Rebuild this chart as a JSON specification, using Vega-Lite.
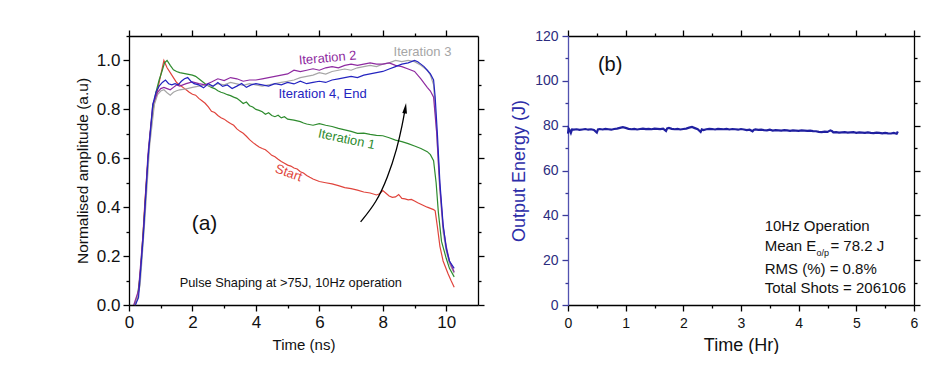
{
  "$schema": "https://vega.github.io/schema/vega-lite/v6.json",
  "padding": {"left": 75, "top": 29, "right": 0, "bottom": 0},
  "background": "white",
  "spacing": 25,
  "config": {
    "view": {"stroke": null},
    "font": "Liberation Sans",
    "axis": {"grid": false, "labelFont": "Liberation Sans", "titleFont": "Liberation Sans", "titleFontWeight": "normal", "domainColor": "#000", "tickColor": "#000", "labelColor": "#111", "titleColor": "#111", "domainWidth": 1.3, "tickWidth": 1.3, "labelFlush": false, "labelOverlap": false}
  },
  "datasets": {
    "pulses": [
      {"series":"Start","x":0.2,"y":0},{"series":"Start","x":0.3,"y":0.05},{"series":"Start","x":0.4,"y":0.2},{"series":"Start","x":0.5,"y":0.42},{"series":"Start","x":0.6,"y":0.6},{"series":"Start","x":0.7,"y":0.74},{"series":"Start","x":0.8,"y":0.83},{"series":"Start","x":0.9,"y":0.88},{"series":"Start","x":1.0,"y":0.94},{"series":"Start","x":1.1,"y":1.0},{"series":"Start","x":1.2,"y":0.97},{"series":"Start","x":1.3,"y":0.95},{"series":"Start","x":1.4,"y":0.93},{"series":"Start","x":1.5,"y":0.91},{"series":"Start","x":1.6,"y":0.9},{"series":"Start","x":1.7,"y":0.89},{"series":"Start","x":1.8,"y":0.88},{"series":"Start","x":1.9,"y":0.87},{"series":"Start","x":2.0,"y":0.862},{"series":"Start","x":2.1,"y":0.858},{"series":"Start","x":2.2,"y":0.845},{"series":"Start","x":2.3,"y":0.835},{"series":"Start","x":2.4,"y":0.825},{"series":"Start","x":2.5,"y":0.81},{"series":"Start","x":2.6,"y":0.792},{"series":"Start","x":2.7,"y":0.787},{"series":"Start","x":2.8,"y":0.775},{"series":"Start","x":2.9,"y":0.766},{"series":"Start","x":3.0,"y":0.76},{"series":"Start","x":3.1,"y":0.75},{"series":"Start","x":3.2,"y":0.742},{"series":"Start","x":3.3,"y":0.735},{"series":"Start","x":3.4,"y":0.72},{"series":"Start","x":3.5,"y":0.71},{"series":"Start","x":3.6,"y":0.702},{"series":"Start","x":3.7,"y":0.69},{"series":"Start","x":3.8,"y":0.676},{"series":"Start","x":3.9,"y":0.665},{"series":"Start","x":4.0,"y":0.655},{"series":"Start","x":4.1,"y":0.646},{"series":"Start","x":4.2,"y":0.64},{"series":"Start","x":4.3,"y":0.635},{"series":"Start","x":4.4,"y":0.624},{"series":"Start","x":4.5,"y":0.612},{"series":"Start","x":4.6,"y":0.606},{"series":"Start","x":4.7,"y":0.596},{"series":"Start","x":4.8,"y":0.587},{"series":"Start","x":4.9,"y":0.58},{"series":"Start","x":5.0,"y":0.572},{"series":"Start","x":5.1,"y":0.568},{"series":"Start","x":5.2,"y":0.56},{"series":"Start","x":5.3,"y":0.556},{"series":"Start","x":5.4,"y":0.545},{"series":"Start","x":5.5,"y":0.54},{"series":"Start","x":5.6,"y":0.53},{"series":"Start","x":5.7,"y":0.522},{"series":"Start","x":5.8,"y":0.515},{"series":"Start","x":5.9,"y":0.51},{"series":"Start","x":6.0,"y":0.505},{"series":"Start","x":6.2,"y":0.5},{"series":"Start","x":6.4,"y":0.495},{"series":"Start","x":6.6,"y":0.488},{"series":"Start","x":6.8,"y":0.48},{"series":"Start","x":7.0,"y":0.476},{"series":"Start","x":7.2,"y":0.47},{"series":"Start","x":7.4,"y":0.462},{"series":"Start","x":7.6,"y":0.458},{"series":"Start","x":7.8,"y":0.45},{"series":"Start","x":7.9,"y":0.455},{"series":"Start","x":8.0,"y":0.468},{"series":"Start","x":8.1,"y":0.457},{"series":"Start","x":8.2,"y":0.446},{"series":"Start","x":8.3,"y":0.44},{"series":"Start","x":8.4,"y":0.442},{"series":"Start","x":8.5,"y":0.452},{"series":"Start","x":8.6,"y":0.436},{"series":"Start","x":8.7,"y":0.434},{"series":"Start","x":8.8,"y":0.43},{"series":"Start","x":8.9,"y":0.432},{"series":"Start","x":9.0,"y":0.425},{"series":"Start","x":9.1,"y":0.418},{"series":"Start","x":9.2,"y":0.412},{"series":"Start","x":9.3,"y":0.406},{"series":"Start","x":9.4,"y":0.4},{"series":"Start","x":9.5,"y":0.395},{"series":"Start","x":9.6,"y":0.39},{"series":"Start","x":9.65,"y":0.385},{"series":"Start","x":9.72,"y":0.32},{"series":"Start","x":9.8,"y":0.24},{"series":"Start","x":9.9,"y":0.18},{"series":"Start","x":10.05,"y":0.13},{"series":"Start","x":10.15,"y":0.1},{"series":"Start","x":10.25,"y":0.073},

      {"series":"Iteration 1","x":0.15,"y":0},{"series":"Iteration 1","x":0.25,"y":0.02},{"series":"Iteration 1","x":0.35,"y":0.12},{"series":"Iteration 1","x":0.45,"y":0.3},{"series":"Iteration 1","x":0.55,"y":0.5},{"series":"Iteration 1","x":0.65,"y":0.68},{"series":"Iteration 1","x":0.75,"y":0.8},{"series":"Iteration 1","x":0.85,"y":0.87},{"series":"Iteration 1","x":0.95,"y":0.92},{"series":"Iteration 1","x":1.05,"y":0.96},{"series":"Iteration 1","x":1.12,"y":0.99},{"series":"Iteration 1","x":1.2,"y":1.0},{"series":"Iteration 1","x":1.3,"y":0.98},{"series":"Iteration 1","x":1.4,"y":0.962},{"series":"Iteration 1","x":1.5,"y":0.955},{"series":"Iteration 1","x":1.6,"y":0.95},{"series":"Iteration 1","x":1.8,"y":0.945},{"series":"Iteration 1","x":2.0,"y":0.94},{"series":"Iteration 1","x":2.1,"y":0.935},{"series":"Iteration 1","x":2.2,"y":0.925},{"series":"Iteration 1","x":2.3,"y":0.915},{"series":"Iteration 1","x":2.4,"y":0.905},{"series":"Iteration 1","x":2.5,"y":0.897},{"series":"Iteration 1","x":2.6,"y":0.89},{"series":"Iteration 1","x":2.7,"y":0.885},{"series":"Iteration 1","x":2.8,"y":0.876},{"series":"Iteration 1","x":2.9,"y":0.87},{"series":"Iteration 1","x":3.0,"y":0.866},{"series":"Iteration 1","x":3.1,"y":0.86},{"series":"Iteration 1","x":3.2,"y":0.856},{"series":"Iteration 1","x":3.3,"y":0.85},{"series":"Iteration 1","x":3.4,"y":0.845},{"series":"Iteration 1","x":3.5,"y":0.835},{"series":"Iteration 1","x":3.6,"y":0.824},{"series":"Iteration 1","x":3.7,"y":0.83},{"series":"Iteration 1","x":3.8,"y":0.815},{"series":"Iteration 1","x":3.9,"y":0.81},{"series":"Iteration 1","x":4.0,"y":0.8},{"series":"Iteration 1","x":4.1,"y":0.796},{"series":"Iteration 1","x":4.2,"y":0.79},{"series":"Iteration 1","x":4.3,"y":0.78},{"series":"Iteration 1","x":4.4,"y":0.786},{"series":"Iteration 1","x":4.5,"y":0.775},{"series":"Iteration 1","x":4.6,"y":0.77},{"series":"Iteration 1","x":4.7,"y":0.776},{"series":"Iteration 1","x":4.8,"y":0.765},{"series":"Iteration 1","x":4.9,"y":0.77},{"series":"Iteration 1","x":5.0,"y":0.76},{"series":"Iteration 1","x":5.2,"y":0.756},{"series":"Iteration 1","x":5.4,"y":0.75},{"series":"Iteration 1","x":5.5,"y":0.744},{"series":"Iteration 1","x":5.6,"y":0.74},{"series":"Iteration 1","x":5.8,"y":0.735},{"series":"Iteration 1","x":6.0,"y":0.742},{"series":"Iteration 1","x":6.2,"y":0.735},{"series":"Iteration 1","x":6.4,"y":0.73},{"series":"Iteration 1","x":6.6,"y":0.722},{"series":"Iteration 1","x":6.8,"y":0.716},{"series":"Iteration 1","x":7.0,"y":0.71},{"series":"Iteration 1","x":7.2,"y":0.702},{"series":"Iteration 1","x":7.4,"y":0.703},{"series":"Iteration 1","x":7.6,"y":0.698},{"series":"Iteration 1","x":7.8,"y":0.694},{"series":"Iteration 1","x":8.0,"y":0.692},{"series":"Iteration 1","x":8.2,"y":0.684},{"series":"Iteration 1","x":8.4,"y":0.674},{"series":"Iteration 1","x":8.6,"y":0.668},{"series":"Iteration 1","x":8.8,"y":0.66},{"series":"Iteration 1","x":9.0,"y":0.65},{"series":"Iteration 1","x":9.2,"y":0.64},{"series":"Iteration 1","x":9.4,"y":0.627},{"series":"Iteration 1","x":9.5,"y":0.615},{"series":"Iteration 1","x":9.6,"y":0.59},{"series":"Iteration 1","x":9.68,"y":0.5},{"series":"Iteration 1","x":9.75,"y":0.38},{"series":"Iteration 1","x":9.85,"y":0.26},{"series":"Iteration 1","x":10.0,"y":0.19},{"series":"Iteration 1","x":10.1,"y":0.15},{"series":"Iteration 1","x":10.25,"y":0.115},

      {"series":"Iteration 3","x":0.2,"y":0},{"series":"Iteration 3","x":0.35,"y":0.08},{"series":"Iteration 3","x":0.5,"y":0.35},{"series":"Iteration 3","x":0.65,"y":0.65},{"series":"Iteration 3","x":0.8,"y":0.82},{"series":"Iteration 3","x":0.9,"y":0.86},{"series":"Iteration 3","x":1.0,"y":0.875},{"series":"Iteration 3","x":1.1,"y":0.88},{"series":"Iteration 3","x":1.2,"y":0.868},{"series":"Iteration 3","x":1.3,"y":0.858},{"series":"Iteration 3","x":1.4,"y":0.87},{"series":"Iteration 3","x":1.5,"y":0.876},{"series":"Iteration 3","x":1.6,"y":0.88},{"series":"Iteration 3","x":1.8,"y":0.884},{"series":"Iteration 3","x":2.0,"y":0.89},{"series":"Iteration 3","x":2.2,"y":0.895},{"series":"Iteration 3","x":2.4,"y":0.9},{"series":"Iteration 3","x":2.6,"y":0.894},{"series":"Iteration 3","x":2.8,"y":0.905},{"series":"Iteration 3","x":3.0,"y":0.9},{"series":"Iteration 3","x":3.2,"y":0.91},{"series":"Iteration 3","x":3.4,"y":0.904},{"series":"Iteration 3","x":3.6,"y":0.898},{"series":"Iteration 3","x":3.8,"y":0.905},{"series":"Iteration 3","x":4.0,"y":0.9},{"series":"Iteration 3","x":4.2,"y":0.895},{"series":"Iteration 3","x":4.4,"y":0.9},{"series":"Iteration 3","x":4.6,"y":0.905},{"series":"Iteration 3","x":4.8,"y":0.91},{"series":"Iteration 3","x":5.0,"y":0.915},{"series":"Iteration 3","x":5.2,"y":0.92},{"series":"Iteration 3","x":5.4,"y":0.93},{"series":"Iteration 3","x":5.6,"y":0.935},{"series":"Iteration 3","x":5.8,"y":0.94},{"series":"Iteration 3","x":6.0,"y":0.95},{"series":"Iteration 3","x":6.2,"y":0.944},{"series":"Iteration 3","x":6.4,"y":0.955},{"series":"Iteration 3","x":6.6,"y":0.96},{"series":"Iteration 3","x":6.8,"y":0.965},{"series":"Iteration 3","x":7.0,"y":0.96},{"series":"Iteration 3","x":7.2,"y":0.97},{"series":"Iteration 3","x":7.4,"y":0.975},{"series":"Iteration 3","x":7.6,"y":0.98},{"series":"Iteration 3","x":7.8,"y":0.975},{"series":"Iteration 3","x":8.0,"y":0.985},{"series":"Iteration 3","x":8.2,"y":0.99},{"series":"Iteration 3","x":8.4,"y":1.0},{"series":"Iteration 3","x":8.6,"y":0.995},{"series":"Iteration 3","x":8.8,"y":1.0},{"series":"Iteration 3","x":9.0,"y":0.995},{"series":"Iteration 3","x":9.2,"y":0.98},{"series":"Iteration 3","x":9.4,"y":0.96},{"series":"Iteration 3","x":9.5,"y":0.94},{"series":"Iteration 3","x":9.6,"y":0.9},{"series":"Iteration 3","x":9.68,"y":0.75},{"series":"Iteration 3","x":9.78,"y":0.5},{"series":"Iteration 3","x":9.9,"y":0.3},{"series":"Iteration 3","x":10.0,"y":0.22},{"series":"Iteration 3","x":10.1,"y":0.17},{"series":"Iteration 3","x":10.25,"y":0.13},

      {"series":"Iteration 2","x":0.15,"y":0},{"series":"Iteration 2","x":0.3,"y":0.06},{"series":"Iteration 2","x":0.45,"y":0.3},{"series":"Iteration 2","x":0.6,"y":0.62},{"series":"Iteration 2","x":0.75,"y":0.82},{"series":"Iteration 2","x":0.9,"y":0.87},{"series":"Iteration 2","x":1.0,"y":0.885},{"series":"Iteration 2","x":1.1,"y":0.89},{"series":"Iteration 2","x":1.2,"y":0.885},{"series":"Iteration 2","x":1.3,"y":0.88},{"series":"Iteration 2","x":1.4,"y":0.89},{"series":"Iteration 2","x":1.5,"y":0.9},{"series":"Iteration 2","x":1.6,"y":0.895},{"series":"Iteration 2","x":1.8,"y":0.905},{"series":"Iteration 2","x":2.0,"y":0.912},{"series":"Iteration 2","x":2.2,"y":0.905},{"series":"Iteration 2","x":2.4,"y":0.9},{"series":"Iteration 2","x":2.6,"y":0.912},{"series":"Iteration 2","x":2.8,"y":0.925},{"series":"Iteration 2","x":3.0,"y":0.918},{"series":"Iteration 2","x":3.2,"y":0.93},{"series":"Iteration 2","x":3.4,"y":0.925},{"series":"Iteration 2","x":3.6,"y":0.915},{"series":"Iteration 2","x":3.8,"y":0.92},{"series":"Iteration 2","x":4.0,"y":0.92},{"series":"Iteration 2","x":4.2,"y":0.925},{"series":"Iteration 2","x":4.4,"y":0.93},{"series":"Iteration 2","x":4.6,"y":0.935},{"series":"Iteration 2","x":4.8,"y":0.94},{"series":"Iteration 2","x":5.0,"y":0.945},{"series":"Iteration 2","x":5.2,"y":0.96},{"series":"Iteration 2","x":5.4,"y":0.954},{"series":"Iteration 2","x":5.6,"y":0.96},{"series":"Iteration 2","x":5.8,"y":0.966},{"series":"Iteration 2","x":6.0,"y":0.96},{"series":"Iteration 2","x":6.2,"y":0.97},{"series":"Iteration 2","x":6.4,"y":0.975},{"series":"Iteration 2","x":6.6,"y":0.97},{"series":"Iteration 2","x":6.8,"y":0.98},{"series":"Iteration 2","x":7.0,"y":0.985},{"series":"Iteration 2","x":7.2,"y":0.98},{"series":"Iteration 2","x":7.4,"y":0.985},{"series":"Iteration 2","x":7.6,"y":0.99},{"series":"Iteration 2","x":7.8,"y":0.985},{"series":"Iteration 2","x":8.0,"y":0.985},{"series":"Iteration 2","x":8.2,"y":0.99},{"series":"Iteration 2","x":8.4,"y":0.98},{"series":"Iteration 2","x":8.6,"y":0.975},{"series":"Iteration 2","x":8.8,"y":0.965},{"series":"Iteration 2","x":9.0,"y":0.955},{"series":"Iteration 2","x":9.2,"y":0.925},{"series":"Iteration 2","x":9.4,"y":0.89},{"series":"Iteration 2","x":9.5,"y":0.875},{"series":"Iteration 2","x":9.6,"y":0.85},{"series":"Iteration 2","x":9.7,"y":0.7},{"series":"Iteration 2","x":9.8,"y":0.48},{"series":"Iteration 2","x":9.9,"y":0.32},{"series":"Iteration 2","x":10.0,"y":0.24},{"series":"Iteration 2","x":10.1,"y":0.18},{"series":"Iteration 2","x":10.25,"y":0.135},

      {"series":"Iteration 4, End","x":0.2,"y":0},{"series":"Iteration 4, End","x":0.3,"y":0.03},{"series":"Iteration 4, End","x":0.45,"y":0.28},{"series":"Iteration 4, End","x":0.6,"y":0.6},{"series":"Iteration 4, End","x":0.75,"y":0.82},{"series":"Iteration 4, End","x":0.85,"y":0.87},{"series":"Iteration 4, End","x":0.95,"y":0.895},{"series":"Iteration 4, End","x":1.05,"y":0.91},{"series":"Iteration 4, End","x":1.15,"y":0.92},{"series":"Iteration 4, End","x":1.25,"y":0.905},{"series":"Iteration 4, End","x":1.35,"y":0.9},{"series":"Iteration 4, End","x":1.45,"y":0.905},{"series":"Iteration 4, End","x":1.55,"y":0.9},{"series":"Iteration 4, End","x":1.65,"y":0.915},{"series":"Iteration 4, End","x":1.75,"y":0.925},{"series":"Iteration 4, End","x":1.85,"y":0.93},{"series":"Iteration 4, End","x":1.95,"y":0.915},{"series":"Iteration 4, End","x":2.05,"y":0.905},{"series":"Iteration 4, End","x":2.2,"y":0.9},{"series":"Iteration 4, End","x":2.35,"y":0.888},{"series":"Iteration 4, End","x":2.5,"y":0.905},{"series":"Iteration 4, End","x":2.65,"y":0.894},{"series":"Iteration 4, End","x":2.8,"y":0.91},{"series":"Iteration 4, End","x":2.95,"y":0.894},{"series":"Iteration 4, End","x":3.1,"y":0.9},{"series":"Iteration 4, End","x":3.25,"y":0.885},{"series":"Iteration 4, End","x":3.4,"y":0.895},{"series":"Iteration 4, End","x":3.55,"y":0.906},{"series":"Iteration 4, End","x":3.7,"y":0.89},{"series":"Iteration 4, End","x":3.85,"y":0.9},{"series":"Iteration 4, End","x":4.0,"y":0.905},{"series":"Iteration 4, End","x":4.2,"y":0.9},{"series":"Iteration 4, End","x":4.4,"y":0.895},{"series":"Iteration 4, End","x":4.6,"y":0.905},{"series":"Iteration 4, End","x":4.8,"y":0.9},{"series":"Iteration 4, End","x":5.0,"y":0.91},{"series":"Iteration 4, End","x":5.2,"y":0.904},{"series":"Iteration 4, End","x":5.4,"y":0.915},{"series":"Iteration 4, End","x":5.6,"y":0.905},{"series":"Iteration 4, End","x":5.8,"y":0.91},{"series":"Iteration 4, End","x":6.0,"y":0.915},{"series":"Iteration 4, End","x":6.2,"y":0.91},{"series":"Iteration 4, End","x":6.4,"y":0.92},{"series":"Iteration 4, End","x":6.6,"y":0.925},{"series":"Iteration 4, End","x":6.8,"y":0.93},{"series":"Iteration 4, End","x":7.0,"y":0.935},{"series":"Iteration 4, End","x":7.2,"y":0.93},{"series":"Iteration 4, End","x":7.4,"y":0.94},{"series":"Iteration 4, End","x":7.6,"y":0.945},{"series":"Iteration 4, End","x":7.8,"y":0.95},{"series":"Iteration 4, End","x":8.0,"y":0.955},{"series":"Iteration 4, End","x":8.2,"y":0.965},{"series":"Iteration 4, End","x":8.4,"y":0.975},{"series":"Iteration 4, End","x":8.6,"y":0.985},{"series":"Iteration 4, End","x":8.8,"y":0.99},{"series":"Iteration 4, End","x":9.0,"y":1.0},{"series":"Iteration 4, End","x":9.1,"y":0.995},{"series":"Iteration 4, End","x":9.2,"y":0.985},{"series":"Iteration 4, End","x":9.3,"y":0.975},{"series":"Iteration 4, End","x":9.4,"y":0.96},{"series":"Iteration 4, End","x":9.5,"y":0.945},{"series":"Iteration 4, End","x":9.6,"y":0.92},{"series":"Iteration 4, End","x":9.65,"y":0.85},{"series":"Iteration 4, End","x":9.72,"y":0.7},{"series":"Iteration 4, End","x":9.8,"y":0.5},{"series":"Iteration 4, End","x":9.9,"y":0.33},{"series":"Iteration 4, End","x":10.0,"y":0.23},{"series":"Iteration 4, End","x":10.1,"y":0.18},{"series":"Iteration 4, End","x":10.25,"y":0.15}
    ],
    "energy": [
      {"t":0.0,"E":76.5},{"t":0.01,"E":78.8},{"t":0.03,"E":78.0},{"t":0.05,"E":76.8},{"t":0.07,"E":78.3},{"t":0.1,"E":78.2},{"t":0.15,"E":78.4},{"t":0.2,"E":78.1},{"t":0.25,"E":78.3},{"t":0.3,"E":78.5},{"t":0.35,"E":78.2},{"t":0.4,"E":78.4},{"t":0.45,"E":78.1},{"t":0.5,"E":76.9},{"t":0.52,"E":78.3},{"t":0.55,"E":78.5},{"t":0.6,"E":78.3},{"t":0.65,"E":78.6},{"t":0.7,"E":78.4},{"t":0.75,"E":78.2},{"t":0.8,"E":78.5},{"t":0.85,"E":78.7},{"t":0.9,"E":79.0},{"t":0.95,"E":79.3},{"t":1.0,"E":79.0},{"t":1.05,"E":78.6},{"t":1.1,"E":78.4},{"t":1.15,"E":78.6},{"t":1.2,"E":78.3},{"t":1.25,"E":78.5},{"t":1.3,"E":78.7},{"t":1.35,"E":78.5},{"t":1.4,"E":78.6},{"t":1.45,"E":78.4},{"t":1.5,"E":78.7},{"t":1.55,"E":78.6},{"t":1.6,"E":78.5},{"t":1.65,"E":78.7},{"t":1.7,"E":77.6},{"t":1.72,"E":78.8},{"t":1.75,"E":79.0},{"t":1.8,"E":78.6},{"t":1.85,"E":78.4},{"t":1.9,"E":78.6},{"t":1.95,"E":78.3},{"t":2.0,"E":78.5},{"t":2.05,"E":78.7},{"t":2.1,"E":79.1},{"t":2.15,"E":79.4},{"t":2.2,"E":78.9},{"t":2.25,"E":78.4},{"t":2.3,"E":77.2},{"t":2.32,"E":78.3},{"t":2.35,"E":78.0},{"t":2.4,"E":78.4},{"t":2.45,"E":78.6},{"t":2.5,"E":78.5},{"t":2.55,"E":78.3},{"t":2.6,"E":78.6},{"t":2.65,"E":78.5},{"t":2.7,"E":78.4},{"t":2.75,"E":78.6},{"t":2.8,"E":78.3},{"t":2.85,"E":78.5},{"t":2.9,"E":78.4},{"t":2.95,"E":78.2},{"t":3.0,"E":78.5},{"t":3.05,"E":78.3},{"t":3.1,"E":78.0},{"t":3.15,"E":78.2},{"t":3.2,"E":77.5},{"t":3.22,"E":78.1},{"t":3.25,"E":78.3},{"t":3.3,"E":78.1},{"t":3.35,"E":78.2},{"t":3.4,"E":78.0},{"t":3.45,"E":77.9},{"t":3.5,"E":78.2},{"t":3.55,"E":77.8},{"t":3.6,"E":78.0},{"t":3.65,"E":77.9},{"t":3.7,"E":77.8},{"t":3.75,"E":78.0},{"t":3.8,"E":77.9},{"t":3.85,"E":77.7},{"t":3.9,"E":77.9},{"t":3.95,"E":77.8},{"t":4.0,"E":77.7},{"t":4.05,"E":77.9},{"t":4.1,"E":77.8},{"t":4.15,"E":77.7},{"t":4.2,"E":77.8},{"t":4.25,"E":77.6},{"t":4.3,"E":77.5},{"t":4.35,"E":77.2},{"t":4.4,"E":77.1},{"t":4.45,"E":77.3},{"t":4.5,"E":77.2},{"t":4.55,"E":77.9},{"t":4.58,"E":77.5},{"t":4.6,"E":77.0},{"t":4.65,"E":77.1},{"t":4.7,"E":76.9},{"t":4.75,"E":77.0},{"t":4.8,"E":77.1},{"t":4.85,"E":76.9},{"t":4.9,"E":77.0},{"t":4.95,"E":77.1},{"t":5.0,"E":76.8},{"t":5.05,"E":77.0},{"t":5.1,"E":76.9},{"t":5.15,"E":76.8},{"t":5.2,"E":77.0},{"t":5.25,"E":76.8},{"t":5.3,"E":76.7},{"t":5.35,"E":76.9},{"t":5.4,"E":76.8},{"t":5.45,"E":76.6},{"t":5.5,"E":76.8},{"t":5.55,"E":76.6},{"t":5.6,"E":76.5},{"t":5.65,"E":76.8},{"t":5.7,"E":76.4},{"t":5.72,"E":77.4}
    ]
  },
  "hconcat": [
    {
      "width": 349,
      "height": 269,
      "resolve": {"axis": {"x": "independent", "y": "independent"}},
      "layer": [
        {
          "data": {"name": "pulses"},
          "mark": {"type": "line", "strokeWidth": 1.2},
          "encoding": {
            "x": {"field": "x", "type": "quantitative", "scale": {"domain": [0, 11], "nice": false, "zero": false}, "axis": {"orient": "bottom", "values": [0,2,4,6,8,10], "title": "Time (ns)", "labelFontSize": 17, "titleFontSize": 15, "tickSize": 6, "labelPadding": 3, "titlePadding": 7}},
            "y": {"field": "y", "type": "quantitative", "scale": {"domain": [0, 1.1], "nice": false}, "axis": {"orient": "left", "values": [0,0.2,0.4,0.6,0.8,1.0], "format": ".1f", "title": "Normalised amplitude (a.u)", "labelFontSize": 17, "titleFontSize": 15.5, "tickSize": 6, "labelPadding": 3, "titlePadding": 6}},
            "color": {"field": "series", "type": "nominal", "scale": {"domain": ["Start", "Iteration 1", "Iteration 2", "Iteration 3", "Iteration 4, End"], "range": ["#e0443c", "#2e8b2e", "#8e2aa0", "#a6a6a6", "#2424c0"]}, "legend": null},
            "order": {"field": "x", "type": "quantitative"}
          }
        },
        {
          "data": {"values": [{"x": 0, "y": 0}]},
          "mark": {"type": "point", "opacity": 0},
          "encoding": {
            "x": {"field": "x", "type": "quantitative", "scale": {"domain": [0, 11], "nice": false, "zero": false}, "axis": {"orient": "bottom", "values": [1,3,5,7,9], "labels": false, "domain": false, "title": null, "tickSize": 3}},
            "y": {"field": "y", "type": "quantitative", "scale": {"domain": [0, 1.1], "nice": false}, "axis": {"orient": "left", "values": [0.1,0.3,0.5,0.7,0.9,1.1], "labels": false, "domain": false, "title": null, "tickSize": 3}}
          }
        },
        {
          "data": {"values": [{"x": 0, "y": 0}]},
          "mark": {"type": "point", "opacity": 0},
          "encoding": {
            "x": {"field": "x", "type": "quantitative", "scale": {"domain": [0, 11], "nice": false, "zero": false}, "axis": {"orient": "top", "values": [0,2,4,6,8,10], "labels": false, "title": null, "tickSize": 6}},
            "y": {"field": "y", "type": "quantitative", "scale": {"domain": [0, 1.1], "nice": false}, "axis": {"orient": "right", "values": [0,0.2,0.4,0.6,0.8,1.0], "labels": false, "title": null, "tickSize": 6}}
          }
        },
        {
          "data": {"values": [{"x": 0, "y": 0}]},
          "mark": {"type": "point", "opacity": 0},
          "encoding": {
            "x": {"field": "x", "type": "quantitative", "scale": {"domain": [0, 11], "nice": false, "zero": false}, "axis": {"orient": "top", "values": [1,3,5,7,9], "labels": false, "domain": false, "title": null, "tickSize": 3}},
            "y": {"field": "y", "type": "quantitative", "scale": {"domain": [0, 1.1], "nice": false}, "axis": {"orient": "right", "values": [0.1,0.3,0.5,0.7,0.9], "labels": false, "domain": false, "title": null, "tickSize": 3}}
          }
        },
        {
          "data": {"values": [{"x": 7.3, "y": 0.34}, {"x": 7.8, "y": 0.42}, {"x": 8.15, "y": 0.52}, {"x": 8.45, "y": 0.64}, {"x": 8.62, "y": 0.74}, {"x": 8.7, "y": 0.8}]},
          "mark": {"type": "line", "color": "#000", "strokeWidth": 1.3, "interpolate": "basis"},
          "encoding": {
            "x": {"field": "x", "type": "quantitative", "axis": null},
            "y": {"field": "y", "type": "quantitative", "axis": null}
          }
        },
        {
          "data": {"values": [{"x": 8.71, "y": 0.805}]},
          "mark": {"type": "point", "shape": "M0,-1L0.45,1L-0.45,1Z", "filled": true, "color": "#000", "opacity": 1, "size": 110, "angle": 8},
          "encoding": {
            "x": {"field": "x", "type": "quantitative", "axis": null},
            "y": {"field": "y", "type": "quantitative", "axis": null}
          }
        },
        {
          "data": {"values": [{"x": 9.25, "y": 1.035, "label": "Iteration 3", "series": "Iteration 3"}, {"x": 6.1, "y": 0.862, "label": "Iteration 4, End", "series": "Iteration 4, End"}]},
          "mark": {"type": "text", "fontSize": 13, "font": "Liberation Sans"},
          "encoding": {
            "x": {"field": "x", "type": "quantitative", "axis": null},
            "y": {"field": "y", "type": "quantitative", "axis": null},
            "text": {"field": "label"},
            "color": {"field": "series", "type": "nominal", "legend": null}
          }
        },
        {
          "data": {"values": [{"x": 6.26, "y": 1.01, "label": "Iteration 2", "series": "Iteration 2"}]},
          "mark": {"type": "text", "fontSize": 13, "font": "Liberation Sans", "angle": -5},
          "encoding": {
            "x": {"field": "x", "type": "quantitative", "axis": null},
            "y": {"field": "y", "type": "quantitative", "axis": null},
            "text": {"field": "label"},
            "color": {"field": "series", "type": "nominal", "legend": null}
          }
        },
        {
          "data": {"values": [{"x": 6.86, "y": 0.677, "label": "Iteration 1", "series": "Iteration 1"}]},
          "mark": {"type": "text", "fontSize": 13, "font": "Liberation Sans", "angle": 12},
          "encoding": {
            "x": {"field": "x", "type": "quantitative", "axis": null},
            "y": {"field": "y", "type": "quantitative", "axis": null},
            "text": {"field": "label"},
            "color": {"field": "series", "type": "nominal", "legend": null}
          }
        },
        {
          "data": {"values": [{"x": 5.03, "y": 0.54, "label": "Start", "series": "Start"}]},
          "mark": {"type": "text", "fontSize": 13, "font": "Liberation Sans", "angle": 20},
          "encoding": {
            "x": {"field": "x", "type": "quantitative", "axis": null},
            "y": {"field": "y", "type": "quantitative", "axis": null},
            "text": {"field": "label"},
            "color": {"field": "series", "type": "nominal", "legend": null}
          }
        },
        {
          "data": {"values": [{"x": 2.38, "y": 0.33, "label": "(a)"}]},
          "mark": {"type": "text", "fontSize": 21, "font": "Liberation Sans", "color": "#111"},
          "encoding": {
            "x": {"field": "x", "type": "quantitative", "axis": null},
            "y": {"field": "y", "type": "quantitative", "axis": null},
            "text": {"field": "label"}
          }
        },
        {
          "data": {"values": [{"x": 5.1, "y": 0.089, "label": "Pulse Shaping at >75J, 10Hz operation"}]},
          "mark": {"type": "text", "fontSize": 12.8, "font": "Liberation Sans", "color": "#111"},
          "encoding": {
            "x": {"field": "x", "type": "quantitative", "axis": null},
            "y": {"field": "y", "type": "quantitative", "axis": null},
            "text": {"field": "label"}
          }
        }
      ]
    },
    {
      "width": 346,
      "height": 269,
      "resolve": {"axis": {"x": "independent", "y": "independent"}},
      "layer": [
        {
          "data": {"name": "energy"},
          "mark": {"type": "line", "strokeWidth": 2.2, "color": "#2020a0"},
          "encoding": {
            "x": {"field": "t", "type": "quantitative", "scale": {"domain": [0, 6], "nice": false, "zero": false}, "axis": {"orient": "bottom", "values": [0,1,2,3,4,5,6], "title": "Time (Hr)", "labelFontSize": 14, "titleFontSize": 18, "tickSize": 6, "labelPadding": 5, "titlePadding": 6}},
            "y": {"field": "E", "type": "quantitative", "scale": {"domain": [0, 120], "nice": false}, "axis": {"orient": "left", "values": [0,20,40,60,80,100,120], "title": "Output Energy (J)", "labelFontSize": 14, "titleFontSize": 18, "tickSize": 6, "labelPadding": 4, "titlePadding": 6, "domainColor": "#5252b0", "tickColor": "#3a3a9a", "labelColor": "#2c2c7e", "titleColor": "#2d2da8"}}
          }
        },
        {
          "data": {"values": [{"t": 0, "E": 0}]},
          "mark": {"type": "point", "opacity": 0},
          "encoding": {
            "x": {"field": "t", "type": "quantitative", "scale": {"domain": [0, 6], "nice": false, "zero": false}, "axis": {"orient": "bottom", "values": [0.5,1.5,2.5,3.5,4.5,5.5], "labels": false, "domain": false, "title": null, "tickSize": 3}},
            "y": {"field": "E", "type": "quantitative", "scale": {"domain": [0, 120], "nice": false}, "axis": {"orient": "left", "values": [10,30,50,70,90,110], "labels": false, "domain": false, "title": null, "tickSize": 3, "tickColor": "#3a3a9a"}}
          }
        },
        {
          "data": {"values": [{"t": 0, "E": 0}]},
          "mark": {"type": "point", "opacity": 0},
          "encoding": {
            "x": {"field": "t", "type": "quantitative", "scale": {"domain": [0, 6], "nice": false, "zero": false}, "axis": {"orient": "top", "values": [0,1,2,3,4,5,6], "labels": false, "title": null, "tickSize": 6}},
            "y": {"field": "E", "type": "quantitative", "scale": {"domain": [0, 120], "nice": false}, "axis": {"orient": "right", "values": [0,20,40,60,80,100,120], "labels": false, "title": null, "tickSize": 6}}
          }
        },
        {
          "data": {"values": [{"t": 0, "E": 0}]},
          "mark": {"type": "point", "opacity": 0},
          "encoding": {
            "x": {"field": "t", "type": "quantitative", "scale": {"domain": [0, 6], "nice": false, "zero": false}, "axis": {"orient": "top", "values": [0.5,1.5,2.5,3.5,4.5,5.5], "labels": false, "domain": false, "title": null, "tickSize": 3}},
            "y": {"field": "E", "type": "quantitative", "scale": {"domain": [0, 120], "nice": false}, "axis": {"orient": "right", "values": [10,30,50,70,90,110], "labels": false, "domain": false, "title": null, "tickSize": 3}}
          }
        },
        {
          "data": {"values": [{"t": 0.73, "E": 107, "label": "(b)"}]},
          "mark": {"type": "text", "fontSize": 20, "font": "Liberation Sans", "color": "#111"},
          "encoding": {
            "x": {"field": "t", "type": "quantitative", "axis": null},
            "y": {"field": "E", "type": "quantitative", "axis": null},
            "text": {"field": "label"}
          }
        },
        {
          "data": {"values": [{"t": 3.41, "E": 35.1, "label": "10Hz Operation"}, {"t": 3.41, "E": 26.4, "label": "Mean E"}, {"t": 3.41, "E": 16.0, "label": "RMS (%) = 0.8%"}, {"t": 3.41, "E": 7.6, "label": "Total Shots = 206106"}, {"t": 4.55, "E": 26.4, "label": "= 78.2 J"}]},
          "mark": {"type": "text", "fontSize": 15, "font": "Liberation Sans", "color": "#111", "align": "left", "baseline": "middle"},
          "encoding": {
            "x": {"field": "t", "type": "quantitative", "axis": null},
            "y": {"field": "E", "type": "quantitative", "axis": null},
            "text": {"field": "label"}
          }
        },
        {
          "data": {"values": [{"t": 4.31, "E": 23.3, "label": "o/p"}]},
          "mark": {"type": "text", "fontSize": 9, "font": "Liberation Sans", "color": "#111", "align": "left", "baseline": "middle"},
          "encoding": {
            "x": {"field": "t", "type": "quantitative", "axis": null},
            "y": {"field": "E", "type": "quantitative", "axis": null},
            "text": {"field": "label"}
          }
        }
      ]
    }
  ]
}
